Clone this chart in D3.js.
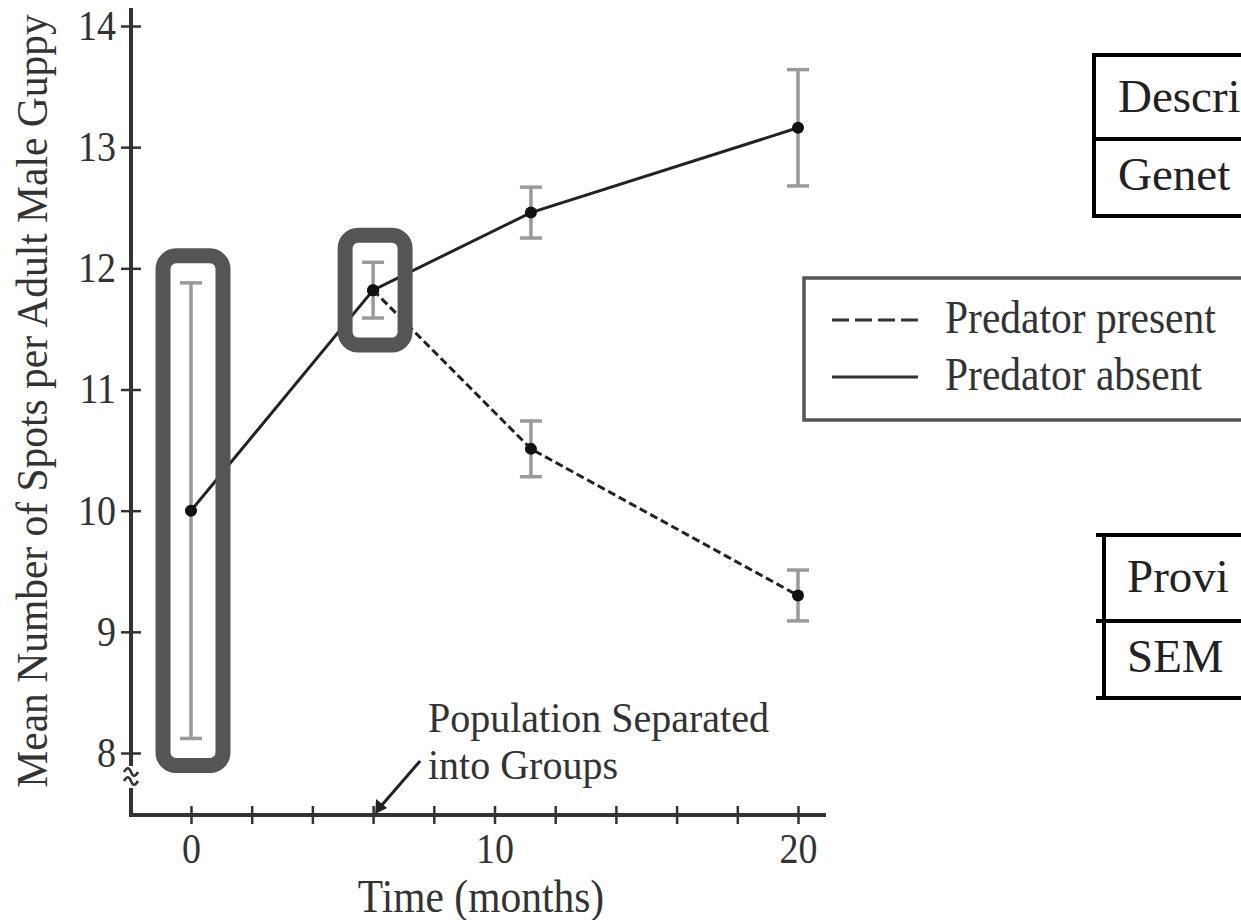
<!DOCTYPE html>
<html>
<head>
<meta charset="utf-8">
<script src="https://cdnjs.cloudflare.com/ajax/libs/d3/7.8.5/d3.min.js"></script>
<style>
  html, body { margin: 0; padding: 0; background: #fff; }
  .chart svg { display: block; font-family: "Liberation Serif", "Times New Roman", serif; }
</style>
</head>
<body>
<div class="chart"></div>
<script>
// data
const months = [0, 6, 11.2, 20];
const absentMean = [10.0, 11.82, 12.46, 13.16];
const absentSem = [1.88, 0.23, 0.21, 0.48];
const presentMonths = [6, 11.2, 20];
const presentMean = [11.82, 10.51, 9.30];
const presentSem = [0.23, 0.23, 0.21];
const highlightMonths = [0, 6];
const separatedAt = 6;

const yTicks = [8, 9, 10, 11, 12, 13, 14];
const xTicks = [0, 2, 4, 6, 8, 10, 12, 14, 16, 18, 20];
const xLabels = [0, 10, 20];
const legendItems = ['Predator present', 'Predator absent'];
// only the left part of these tables is visible in the figure
const tableTop = ['Descri', 'Genet'];
const tableBottom = ['Provi', 'SEM'];

const W = 1241, H = 920;
const K = 1.1; // the scanned text is a bit taller than it is wide
const ink = '#222';

const absent = months.map((m, i) => ({ m, v: absentMean[i], e: absentSem[i] }));
const present = presentMonths.map((m, i) => ({ m, v: presentMean[i], e: presentSem[i] }));

const svg = d3.select('.chart')
    .append('svg')
    .attr('width', W)
    .attr('height', H)
    .style('background', '#fff');

const x = d3.scaleLinear().domain([0, 20]).range([191, 798]);
const y = d3.scaleLinear().domain([8, 14]).range([753, 26]);
const axisLeftX = 131, axisBottomY = 815, axisRightX = 826, axisTopY = 8;

// y axis
const yAxis = svg.append('g')
    .attr('transform', `translate(${axisLeftX},0)`)
    .call(d3.axisLeft(y).tickValues(yTicks).tickFormat(d3.format('d')).tickSize(0).tickPadding(15))
    .attr('font-family', null)
    .attr('font-size', 38);
yAxis.select('.domain').remove();
yAxis.selectAll('.tick line')
    .attr('x1', -10).attr('x2', 10)
    .attr('stroke', '#333').attr('stroke-width', 2.5);
yAxis.selectAll('.tick text')
    .attr('fill', '#333')
    .attr('transform', `scale(1,${K})`);

// x axis
const xAxis = svg.append('g')
    .attr('transform', `translate(0,${axisBottomY})`)
    .call(d3.axisBottom(x).tickValues(xTicks).tickSize(0)
        .tickFormat(d => xLabels.includes(d) ? d : ''))
    .attr('font-family', null)
    .attr('font-size', 38);
xAxis.select('.domain').remove();
xAxis.selectAll('.tick line')
    .attr('y1', -9).attr('y2', 9)
    .attr('stroke', '#333').attr('stroke-width', 2.5);
xAxis.selectAll('.tick text')
    .attr('fill', '#333')
    .attr('y', 48 / K).attr('dy', 0)
    .attr('transform', `scale(1,${K})`);

// axis lines with the break near the bottom of the y axis
const breakTop = 766, breakBottom = 788;
svg.append('path')
    .attr('d', `M${axisLeftX},${axisTopY}V${breakTop}`)
    .attr('stroke', '#333').attr('stroke-width', 4).attr('fill', 'none');
svg.append('path')
    .attr('d', `M${axisLeftX},${breakBottom}V${axisBottomY}H${axisRightX}`)
    .attr('stroke', '#333').attr('stroke-width', 4).attr('fill', 'none');
[772, 781].forEach(cy => {
    svg.append('path')
        .attr('d', `M${axisLeftX - 7},${cy} c3,-5 5,-5 7,0 s4,5 7,0`)
        .attr('stroke', '#333').attr('stroke-width', 2.5).attr('fill', 'none');
});

// axis titles
svg.append('text')
    .attr('transform', `translate(481,912) scale(1,${K})`)
    .attr('text-anchor', 'middle')
    .attr('font-size', 41.5)
    .attr('fill', '#333')
    .text('Time (months)');

svg.append('text')
    .attr('transform', `translate(47,401) rotate(-90) scale(1,1.08)`)
    .attr('text-anchor', 'middle')
    .attr('font-size', 41.5)
    .attr('fill', '#333')
    .text('Mean Number of Spots per Adult Male Guppy');

// error bars
const bars = absent.concat(present.slice(1));
const errG = svg.append('g')
    .attr('stroke', '#9a9a9a')
    .attr('stroke-width', 3.5);
bars.forEach(d => {
    const cx = x(d.m);
    errG.append('line')
        .attr('x1', cx).attr('x2', cx)
        .attr('y1', y(d.v + d.e)).attr('y2', y(d.v - d.e));
    [d.v + d.e, d.v - d.e].forEach(v => {
        errG.append('line')
            .attr('x1', cx - 11).attr('x2', cx + 11)
            .attr('y1', y(v)).attr('y2', y(v));
    });
});

// series lines
const line = d3.line().x(d => x(d.m)).y(d => y(d.v));
svg.append('path')
    .datum(absent)
    .attr('d', line)
    .attr('fill', 'none')
    .attr('stroke', ink)
    .attr('stroke-width', 3);
svg.append('path')
    .datum(present)
    .attr('d', line)
    .attr('fill', 'none')
    .attr('stroke', ink)
    .attr('stroke-width', 3)
    .attr('stroke-dasharray', '8,4');

svg.selectAll('.pt')
    .data(absent.concat(present))
    .enter()
    .append('circle')
    .attr('class', 'pt')
    .attr('cx', d => x(d.m))
    .attr('cy', d => y(d.v))
    .attr('r', 6)
    .attr('fill', '#111');

// highlight boxes around the first two error bars
highlightMonths.forEach(m => {
    const d = absent.find(p => p.m === m);
    const pad = 27;
    const top = y(d.v + d.e) - pad, bottom = y(d.v - d.e) + pad;
    svg.append('rect')
        .attr('x', x(m) + 2 - 30)
        .attr('y', top)
        .attr('width', 60)
        .attr('height', bottom - top)
        .attr('rx', 13)
        .attr('fill', 'none')
        .attr('stroke', '#555')
        .attr('stroke-width', 15);
});

// annotation
const tipX = x(separatedAt), tipY = axisBottomY;
svg.append('line')
    .attr('x1', tipX + 47).attr('y1', tipY - 54)
    .attr('x2', tipX + 8).attr('y2', tipY - 9)
    .attr('stroke', ink).attr('stroke-width', 3);
svg.append('path')
    .attr('d', `M${tipX + 2},${tipY - 1} L${tipX + 3},${tipY - 16} L${tipX + 14},${tipY - 7} Z`)
    .attr('fill', ink);
const note = svg.append('g').attr('font-size', 40).attr('fill', '#333');
note.append('text').attr('transform', `translate(428,732) scale(1,1.04)`).text('Population Separated');
note.append('text').attr('transform', `translate(428,779) scale(1,1.04)`).text('into Groups');

// legend
const legend = svg.append('g');
legend.append('rect')
    .attr('x', 804).attr('y', 278)
    .attr('width', 480).attr('height', 142)
    .attr('fill', '#fff')
    .attr('stroke', '#555')
    .attr('stroke-width', 3.5);
legendItems.forEach((name, i) => {
    const ly = 320 + i * 57;
    legend.append('line')
        .attr('x1', 832).attr('x2', 918)
        .attr('y1', ly).attr('y2', ly)
        .attr('stroke', '#333')
        .attr('stroke-width', 3)
        .attr('stroke-dasharray', i === 0 ? '17,6' : null);
    legend.append('text')
        .attr('transform', `translate(945,${ly + 13}) scale(1,${K})`)
        .attr('font-size', 41.5)
        .attr('fill', '#333')
        .text(name);
});

// the two tables cut off at the right edge
function table(left, lineStart, rows, ys, textX, baselines) {
    const g = svg.append('g');
    ys.forEach(yy => {
        g.append('line')
            .attr('x1', lineStart).attr('x2', W + 10)
            .attr('y1', yy).attr('y2', yy)
            .attr('stroke', '#000').attr('stroke-width', 4);
    });
    g.append('line')
        .attr('x1', left).attr('x2', left)
        .attr('y1', ys[0]).attr('y2', ys[ys.length - 1])
        .attr('stroke', '#000').attr('stroke-width', 4);
    rows.forEach((t, i) => {
        g.append('text')
            .attr('x', textX).attr('y', baselines[i])
            .attr('font-size', 47)
            .attr('fill', ink)
            .text(t);
    });
}
table(1094, 1092, tableTop, [55, 139, 216], 1118, [112, 190]);
table(1104, 1096, tableBottom, [535, 621, 698], 1127, [592, 672]);
</script>
</body>
</html>
